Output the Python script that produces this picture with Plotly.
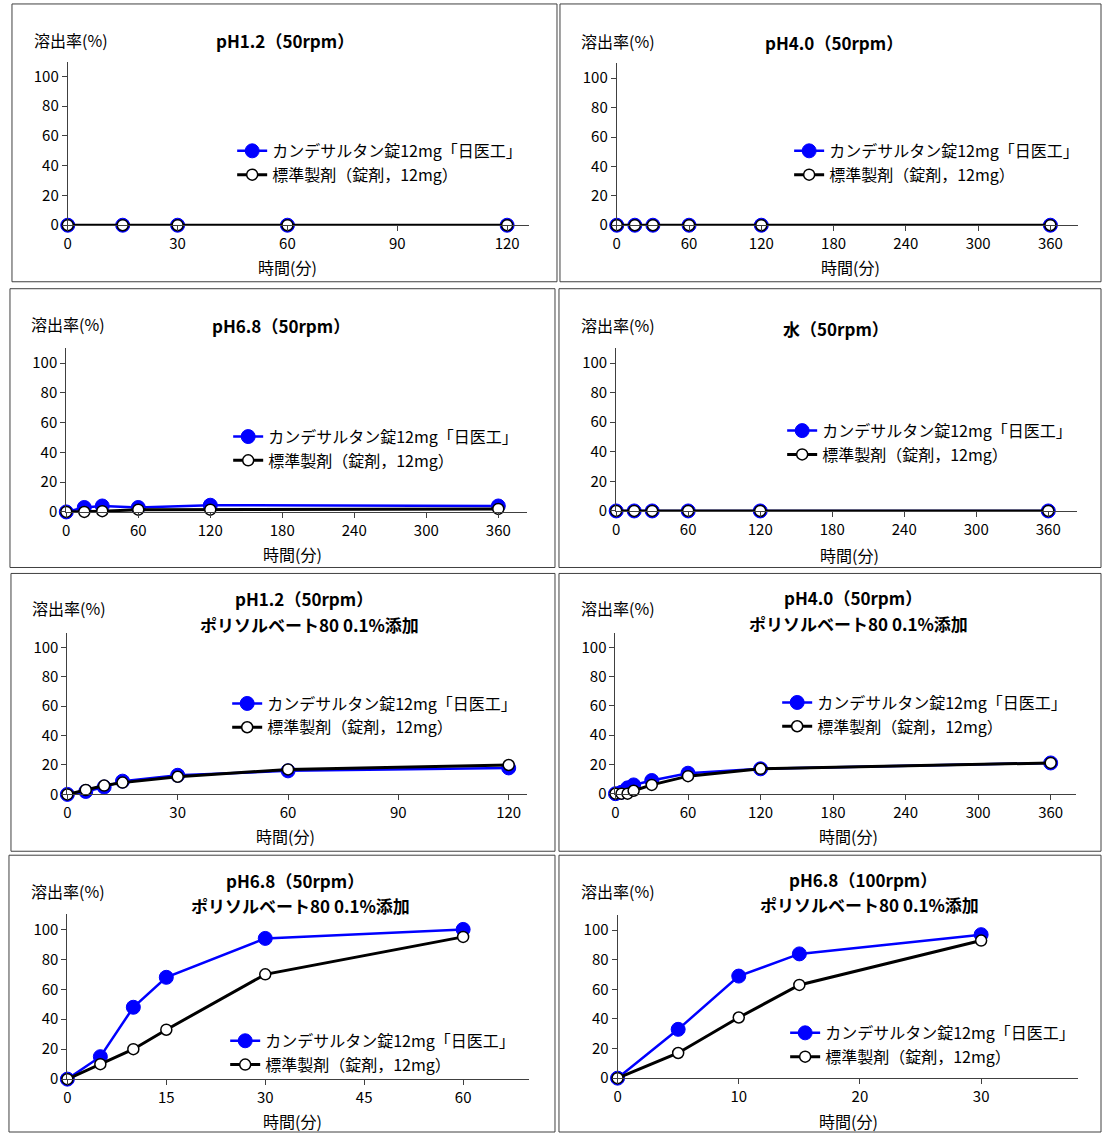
import plotly.graph_objects as go

W, H = 1102, 1142
FONT = "Noto Sans CJK JP"

# ---------------- data ----------------
series_names = ["カンデサルタン錠12mg「日医工」", "標準製剤（錠剤，12mg）"]

t_ph12 = [0, 15, 30, 60, 120]
ph12_test = [0, 0, 0, 0, 0]
ph12_ref = [0, 0, 0, 0, 0]

t_ph40 = [0, 15, 30, 60, 120, 360]
ph40_test = [0, 0, 0, 0, 0, 0]
ph40_ref = [0, 0, 0, 0, 0, 0]

t_ph68 = [0, 15, 30, 60, 120, 360]
ph68_test = [0, 3, 4, 3, 4.5, 4]
ph68_ref = [0, 0, 0.5, 1.5, 1.5, 2]

t_water = [0, 15, 30, 60, 120, 360]
water_test = [0, 0, 0, 0, 0, 0]
water_ref = [0, 0, 0, 0, 0, 0]

t_ph12_ps = [0, 5, 10, 15, 30, 60, 120]
ph12_ps_test = [0, 2, 5, 9, 13, 16, 18]
ph12_ps_ref = [0, 3, 6, 8, 12, 17, 20]

t_ph40_ps = [0, 5, 10, 15, 30, 60, 120, 360]
ph40_ps_test = [0, 1, 4, 6, 9, 14, 17, 21]
ph40_ps_ref = [0, 0, 0, 2, 6, 12, 17, 21]

t_ph68_ps = [0, 5, 10, 15, 30, 60]
ph68_ps_test = [0, 15, 48, 68, 94, 100]
ph68_ps_ref = [0, 10, 20, 33, 70, 95]

t_ph68_100 = [0, 5, 10, 15, 30]
ph68_100_test = [0, 33, 69, 84, 97]
ph68_100_ref = [0, 17, 41, 63, 93]

titles = [
    ["pH1.2（50rpm）"],
    ["pH4.0（50rpm）"],
    ["pH6.8（50rpm）"],
    ["水（50rpm）"],
    ["pH1.2（50rpm）", "ポリソルベート80 0.1%添加"],
    ["pH4.0（50rpm）", "ポリソルベート80 0.1%添加"],
    ["pH6.8（50rpm）", "ポリソルベート80 0.1%添加"],
    ["pH6.8（100rpm）", "ポリソルベート80 0.1%添加"],
]
x_tick_steps = [30, 60, 60, 60, 30, 60, 15, 10]
x_tick_max = [120, 360, 360, 360, 120, 360, 60, 30]
x_range_max = [126, 383, 384, 384, 125, 381, 70, 38]
y_ticks = [0, 20, 40, 60, 80, 100]
y_label = "溶出率(%)"
x_label = "時間(分)"

panels_t = [t_ph12, t_ph40, t_ph68, t_water, t_ph12_ps, t_ph40_ps, t_ph68_ps, t_ph68_100]
panels_test = [ph12_test, ph40_test, ph68_test, water_test, ph12_ps_test, ph40_ps_test, ph68_ps_test, ph68_100_test]
panels_ref = [ph12_ref, ph40_ref, ph68_ref, water_ref, ph12_ps_ref, ph40_ps_ref, ph68_ps_ref, ph68_100_ref]

# ---------------- layout (pixels) ----------------
plot_px = [
    (64, 527, 62, 227),
    (615, 1078, 64, 227),
    (62.5, 525, 351, 516),
    (614.4, 1077, 351, 515),
    (63.6, 525, 637.7, 800.7),
    (613.7, 1076, 637.7, 800),
    (63.6, 527, 921.7, 1087.7),
    (615.8, 1078, 922.7, 1086.7),
]
box_px = [
    (8, 4, 555, 284), (558, 4, 1101, 284),
    (6, 291, 553, 572), (557, 291, 1101, 572),
    (7, 578, 553, 858), (557, 578, 1101, 858),
    (5, 862, 553, 1141), (557, 862, 1101, 1141),
]
title_px = [
    [(282, 41)], [(833, 43)], [(278, 328)], [(835, 331)],
    [(301, 603), (307, 629)], [(852, 602), (858, 628)],
    [(292, 887), (298, 913)], [(862, 886), (869, 912)],
]
ylab_px = [(28, 40), (577, 41), (25, 327), (577, 328), (26, 613), (577, 613), (25, 898), (577, 898)]
xlab_px = [(285, 269), (850, 269), (290, 558), (849, 559), (283, 843), (848, 843), (290, 1130), (848, 1130)]
legend_px = [(227, 149), (786, 149), (223, 437), (779, 431), (222, 706), (774, 705), (220, 1046), (782, 1038)]


def px_x(v):
    return v / W


def px_y(v):
    return 1 - v / H


fig = go.Figure()
layout = dict(
    width=W, height=H, margin=dict(l=0, r=0, t=0, b=0),
    paper_bgcolor="white", plot_bgcolor="white",
    font=dict(family=FONT, color="black", size=15),
    shapes=[], annotations=[],
)

for i in range(8):
    n = i + 1
    xa = "x" if n == 1 else f"x{n}"
    ya = "y" if n == 1 else f"y{n}"
    lg = "legend" if n == 1 else f"legend{n}"
    t = panels_t[i]
    fig.add_trace(go.Scatter(
        x=t, y=panels_test[i], name=series_names[0], mode="lines+markers",
        line=dict(color="#0000FF", width=2.5),
        marker=dict(symbol="circle", size=14, color="#0000FF", line=dict(color="#0000FF", width=1)),
        xaxis=xa, yaxis=ya, legend=lg, cliponaxis=False, showlegend=True,
    ))
    fig.add_trace(go.Scatter(
        x=t, y=panels_ref[i], name=series_names[1], mode="lines+markers",
        line=dict(color="black", width=3),
        marker=dict(symbol="circle", size=11, color="white", line=dict(color="black", width=1.5)),
        xaxis=xa, yaxis=ya, legend=lg, cliponaxis=False, showlegend=True,
    ))
    x0, x1, yt, yb = plot_px[i]
    ax_common = dict(showgrid=False, zeroline=False, showline=True, linecolor="#404040", linewidth=1,
                     ticks="outside", ticklen=5, tickcolor="#404040", tickwidth=1,
                     tickfont=dict(family=FONT, size=15, color="black"), fixedrange=True)
    layout["xaxis" if n == 1 else f"xaxis{n}"] = dict(
        ax_common, domain=[px_x(x0), px_x(x1)], anchor=ya, range=[0, x_range_max[i]],
        tickvals=list(range(0, x_tick_max[i] + 1, x_tick_steps[i])),
    )
    layout["yaxis" if n == 1 else f"yaxis{n}"] = dict(
        ax_common, domain=[px_y(yb), px_y(yt)], anchor=xa, range=[0, 110], tickvals=y_ticks,
    )
    bx0, by0, bx1, by1 = box_px[i]
    layout["shapes"].append(dict(type="rect", xref="paper", yref="paper",
                                 x0=px_x(bx0), x1=px_x(bx1), y0=px_y(by1), y1=px_y(by0),
                                 line=dict(color="#404040", width=1)))
    for line_txt, (tx, ty) in zip(titles[i], title_px[i]):
        layout["annotations"].append(dict(text=f"<b>{line_txt}</b>", x=px_x(tx), y=px_y(ty),
                                          xref="paper", yref="paper", xanchor="center", yanchor="middle",
                                          showarrow=False,
                                          font=dict(family=FONT, size=17, color="black")))
    lx, ly = ylab_px[i]
    layout["annotations"].append(dict(text=y_label, x=px_x(lx), y=px_y(ly), xref="paper", yref="paper",
                                      xanchor="left", yanchor="middle", showarrow=False,
                                      font=dict(family=FONT, size=16, color="black")))
    lx, ly = xlab_px[i]
    layout["annotations"].append(dict(text=x_label, x=px_x(lx), y=px_y(ly), xref="paper", yref="paper",
                                      xanchor="center", yanchor="middle", showarrow=False,
                                      font=dict(family=FONT, size=16, color="black")))
    gx, gy = legend_px[i]
    layout[lg] = dict(x=px_x(gx + 2), y=px_y(gy - 14), xanchor="left", yanchor="top",
                      bgcolor="rgba(0,0,0,0)", borderwidth=0,
                      font=dict(family=FONT, size=16, color="black"))

fig.update_layout(**layout)
fig.write_html("out.html", config={"displayModeBar": False},
               post_script="document.body.style.margin='0';document.body.style.overflow='hidden';")
